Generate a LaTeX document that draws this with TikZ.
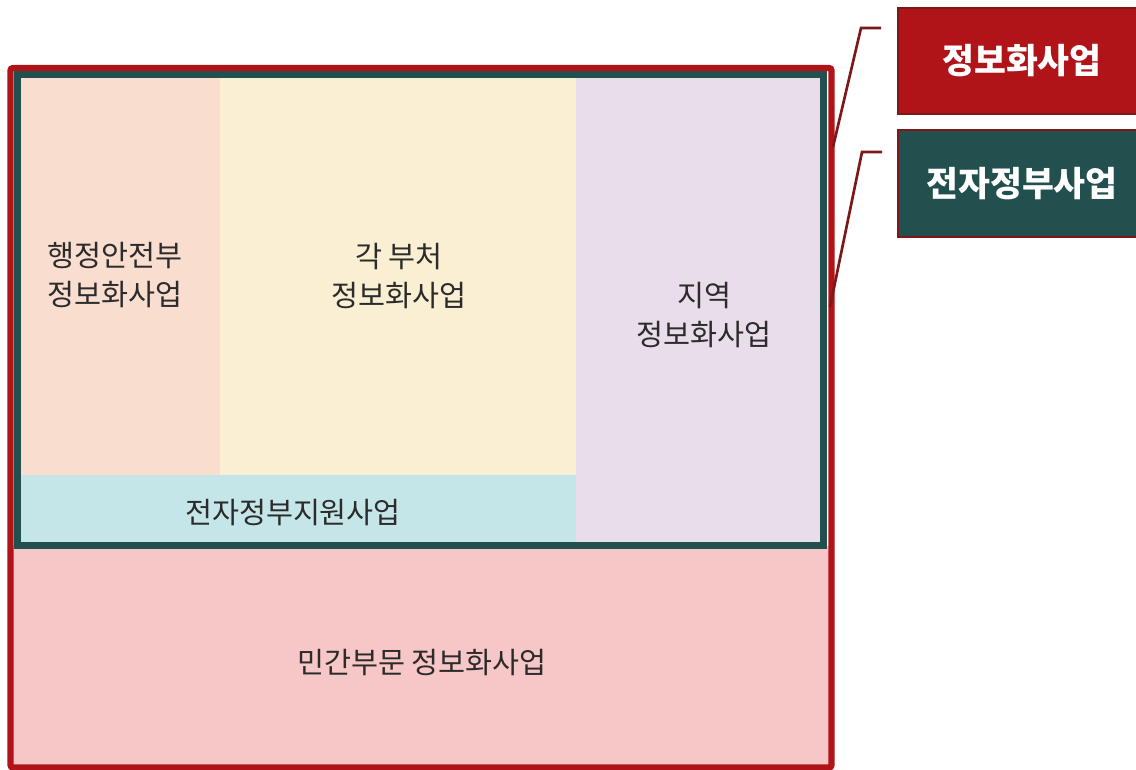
\documentclass[tikz,border=0pt]{standalone}
\usepackage{fontspec}
\newfontfamily\kr{Noto Sans CJK KR}
\definecolor{peach}{HTML}{F9DDCF}
\definecolor{cream}{HTML}{FAEFD3}
\definecolor{lilac}{HTML}{EADDEB}
\definecolor{skyblue}{HTML}{C4E6E8}
\definecolor{rosy}{HTML}{F7C6C6}
\definecolor{framered}{HTML}{B01418}
\definecolor{frameteal}{HTML}{22504F}
\definecolor{leaderred}{HTML}{7E1818}
\definecolor{inktext}{HTML}{2B2B2B}
\tikzset{
  areatext/.style={font=\kr\fontsize{22pt}{29pt}\selectfont, text=inktext, align=center},
  legendbox/.style={draw=leaderred, line width=1.5pt, minimum width=186pt, minimum height=80pt,
    text=white, font=\kr\bfseries\fontsize{26pt}{30pt}\selectfont},
  leader/.style={draw=leaderred, line width=2pt}
}
\begin{document}
\begin{tikzpicture}[x=0.75pt,y=-0.75pt]
\useasboundingbox (0,0) rectangle (1136,769);
% coloured areas
\fill[peach] (17,74) rectangle (220,475);
\fill[cream] (220,74) rectangle (576,475);
\fill[lilac] (576,74) rectangle (824,546);
\fill[skyblue] (17,475) rectangle (576,546);
\fill[rosy] (10,546) rectangle (832,767);
% frames
\draw[frameteal, line width=5.2pt] (17.5,74.5) rectangle (823.5,545.5);
\draw[framered, line width=4.8pt, rounded corners=2pt] (10.5,68) rectangle (831.5,767.5);
% labels
\node[areatext] (mois) at (115,275) {행정안전부\\정보화사업};
\node[areatext] (dept) at (399,276) {각 부처\\정보화사업};
\node[areatext] (local) at (704,315) {지역\\정보화사업};
\node[areatext] (egovsup) at (293,513) {전자정부지원사업};
\node[areatext] (private) at (422,663) {민간부문 정보화사업};
% legend
\node[legendbox, fill=framered] (leg1) at (1022,61) {정보화사업};
\node[legendbox, fill=frameteal] (leg2) at (1022,183.5) {전자정부사업};
\coordinate (t1) at (833,147);
\coordinate (k1) at (861,28);
\coordinate (e1) at (881,28);
\coordinate (t2) at (830,307);
\coordinate (k2) at (862,152);
\coordinate (e2) at (882,152);
\draw[leader] (t1) -- (k1) -- (e1);
\draw[leader] (t2) -- (k2) -- (e2);
\end{tikzpicture}
\end{document}
